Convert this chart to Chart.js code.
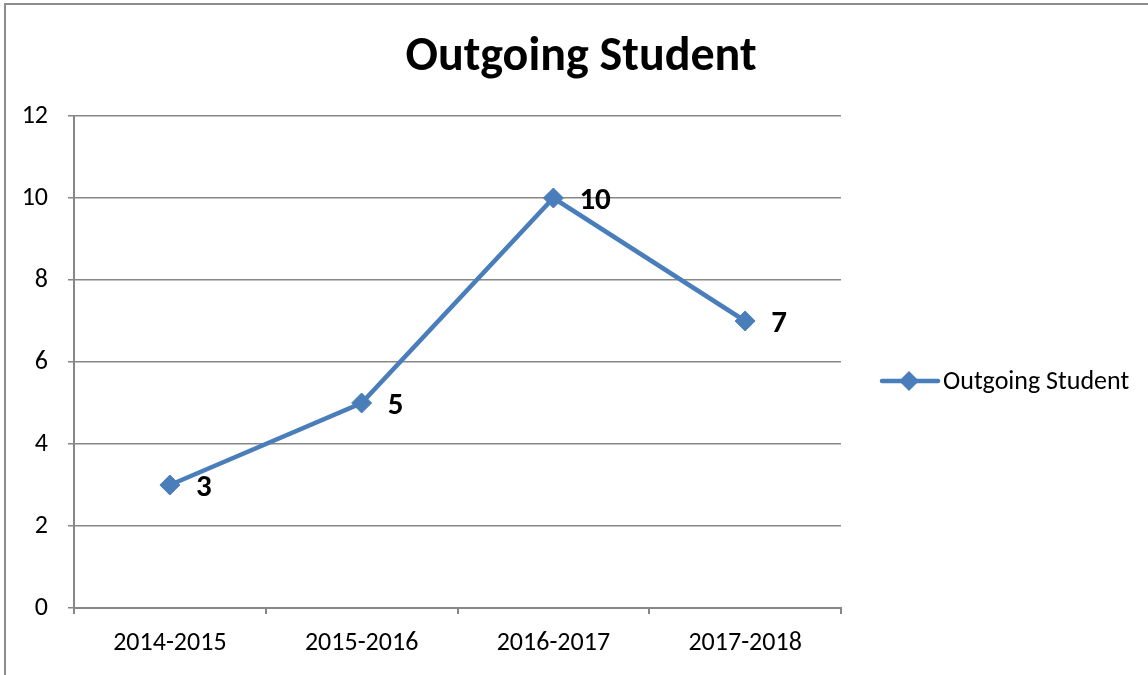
<!DOCTYPE html>
<html lang="en">
<head>
  <meta charset="UTF-8" />
  <title>Outgoing Student</title>
  <script src="https://cdn.jsdelivr.net/npm/chart.js"></script>
  <style>
    body {
      margin: 0;
      background: #fff;
    }
    .wrap {
      width: 1148px;
      height: 675px;
      position: relative;
    }
  </style>
</head>
<body>
  <div class="wrap">
    <canvas id="outgoingChart" width="1148" height="675"></canvas>
  </div>

  <script>
    // chart data
    const years = ['2014-2015', '2015-2016', '2016-2017', '2017-2018'];
    const students = [3, 5, 10, 7];
    const yTicks = [0, 2, 4, 6, 8, 10, 12];

    const FONT = 'Carlito, Calibri, Lato, sans-serif';
    const BLUE = '#4A7EBB';
    const GRID = '#878787';

    // title, outer frame, value labels and legend drawn on the canvas
    const extras = {
      id: 'extras',
      afterDraw(chart) {
        const ctx = chart.ctx;
        ctx.save();

        // frame (top + left edge of the chart box)
        ctx.strokeStyle = '#8c8c8c';
        ctx.lineWidth = 2;
        ctx.beginPath();
        ctx.moveTo(5, 675);
        ctx.lineTo(5, 4);
        ctx.lineTo(1148, 4);
        ctx.stroke();

        // title
        ctx.fillStyle = '#000';
        ctx.font = 'bold 48px ' + FONT;
        ctx.textAlign = 'center';
        ctx.textBaseline = 'alphabetic';
        ctx.fillText('Outgoing Student', 581, 70);

        // value labels
        const meta = chart.getDatasetMeta(0);
        ctx.font = 'bold 31px ' + FONT;
        ctx.textAlign = 'left';
        meta.data.forEach((pt, i) => {
          ctx.fillText(String(students[i]), pt.x + 26, pt.y + 11);
        });

        // legend
        const ly = 381;
        ctx.strokeStyle = BLUE;
        ctx.lineWidth = 4.5;
        ctx.lineCap = 'round';
        ctx.beginPath();
        ctx.moveTo(882, ly);
        ctx.lineTo(938, ly);
        ctx.stroke();
        ctx.fillStyle = BLUE;
        ctx.beginPath();
        ctx.moveTo(909 - 10, ly);
        ctx.lineTo(909, ly - 10);
        ctx.lineTo(909 + 10, ly);
        ctx.lineTo(909, ly + 10);
        ctx.closePath();
        ctx.fill();
        ctx.fillStyle = '#000';
        ctx.font = '26px ' + FONT;
        ctx.textBaseline = 'middle';
        ctx.fillText('Outgoing Student', 943, ly + 1);

        ctx.restore();
      }
    };

    new Chart(document.getElementById('outgoingChart'), {
      type: 'line',
      data: {
        labels: years,
        datasets: [{
          label: 'Outgoing Student',
          data: students,
          borderColor: BLUE,
          backgroundColor: BLUE,
          borderWidth: 4.5,
          pointStyle: 'rectRot',
          pointRadius: 10,
          pointBorderWidth: 1,
          pointHoverRadius: 10,
          tension: 0
        }]
      },
      options: {
        responsive: false,
        animation: false,
        layout: {
          padding: { left: 0, top: 116, right: 307, bottom: 0 }
        },
        plugins: {
          legend: { display: false },
          title: { display: false },
          tooltip: { enabled: false }
        },
        scales: {
          x: {
            offset: true,
            afterFit(scale) { scale.height = 67; },
            border: { color: GRID, width: 2 },
            grid: {
              offset: true,
              drawOnChartArea: false,
              drawTicks: true,
              tickLength: 6,
              color: GRID,
              lineWidth: 2
            },
            ticks: {
              color: '#000',
              font: { family: FONT, size: 26 },
              padding: 14,
              maxRotation: 0
            }
          },
          y: {
            min: 0,
            max: 12,
            afterFit(scale) { scale.width = 74; },
            afterBuildTicks(scale) {
              scale.ticks = yTicks.map(v => ({ value: v }));
            },
            border: { color: GRID, width: 2 },
            grid: {
              color: GRID,
              lineWidth: 1.5,
              tickLength: 6
            },
            ticks: {
              color: '#000',
              font: { family: FONT, size: 26 },
              padding: 20
            }
          }
        }
      },
      plugins: [extras]
    });
  </script>
</body>
</html>
